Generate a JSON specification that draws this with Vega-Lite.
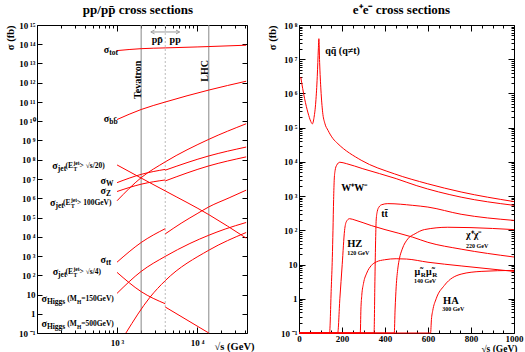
{
 "$schema": "https://vega.github.io/schema/vega-lite/v6.json",
 "padding": {"left": 5, "top": 3, "right": 0, "bottom": 0},
 "spacing": 12,
 "config": {
  "view": {"stroke": "#000000", "strokeWidth": 1},
  "font": "Liberation Serif",
  "axis": {"labelFont": "Liberation Serif", "labelFontWeight": "bold", "labelFontSize": 9, "labelColor": "#000000", "titleFont": "Liberation Serif", "titleFontWeight": "bold", "titleFontSize": 10.5, "titleColor": "#000000", "tickColor": "#000000", "tickWidth": 1, "domain": false, "grid": false, "labelFlush": false, "labelOverlap": false, "labelBound": false},
  "text": {"font": "Liberation Serif", "fontWeight": "bold", "color": "#000000"},
  "title": {"font": "Liberation Serif", "fontWeight": "bold", "fontSize": 13, "color": "#000000"}
 },
 "datasets": {
  "vl": [{"s": 2000, "k": "solid"}, {"s": 14000, "k": "solid"}, {"s": 4000, "k": "dash"}],
  "arr": [{"s": 2786, "sigma": 4.34e14, "dir": "l"}, {"s": 5754, "sigma": 4.34e14, "dir": "r"}],
  "pp": [
   {"c": "tot", "g": "a", "s": 1000, "sigma": 4.68e13}, {"c": "tot", "g": "a", "s": 2000, "sigma": 5.89e13}, {"c": "tot", "g": "a", "s": 4000, "sigma": 6.46e13}, {"c": "tot", "g": "a", "s": 10000, "sigma": 7.24e13}, {"c": "tot", "g": "a", "s": 14000, "sigma": 7.59e13}, {"c": "tot", "g": "a", "s": 41000, "sigma": 8.91e13},
   {"c": "bb", "g": "a", "s": 1000, "sigma": 1.23e10}, {"c": "bb", "g": "a", "s": 2000, "sigma": 4.07e10}, {"c": "bb", "g": "a", "s": 4000, "sigma": 1.0e11}, {"c": "bb", "g": "a", "s": 14000, "sigma": 4.17e11}, {"c": "bb", "g": "a", "s": 41000, "sigma": 1.2e12},
   {"c": "jet20", "g": "a", "s": 1000, "sigma": 5.37e7}, {"c": "jet20", "g": "a", "s": 2000, "sigma": 1.12e7}, {"c": "jet20", "g": "a", "s": 4000, "sigma": 2.4e6}, {"c": "jet20", "g": "a", "s": 14000, "sigma": 1.41e5}, {"c": "jet20", "g": "a", "s": 41000, "sigma": 8510},
   {"c": "W", "g": "a", "s": 1000, "sigma": 6.46e6}, {"c": "W", "g": "a", "s": 2000, "sigma": 1.74e7}, {"c": "W", "g": "a", "s": 4000, "sigma": 3.16e7},
   {"c": "W", "g": "b", "s": 4000, "sigma": 2.88e7}, {"c": "W", "g": "b", "s": 14000, "sigma": 1.58e8}, {"c": "W", "g": "b", "s": 41000, "sigma": 4.57e8},
   {"c": "Z", "g": "a", "s": 1000, "sigma": 2.24e6}, {"c": "Z", "g": "a", "s": 2000, "sigma": 5.37e6}, {"c": "Z", "g": "a", "s": 4000, "sigma": 8.91e6},
   {"c": "Z", "g": "b", "s": 4000, "sigma": 7.94e6}, {"c": "Z", "g": "b", "s": 14000, "sigma": 4.79e7}, {"c": "Z", "g": "b", "s": 41000, "sigma": 1.41e8},
   {"c": "jet100", "g": "a", "s": 1000, "sigma": 7.41e5}, {"c": "jet100", "g": "a", "s": 2000, "sigma": 1.17e7}, {"c": "jet100", "g": "a", "s": 4000, "sigma": 7.76e7}, {"c": "jet100", "g": "a", "s": 14000, "sigma": 1.15e9}, {"c": "jet100", "g": "a", "s": 41000, "sigma": 7.41e9},
   {"c": "tt", "g": "a", "s": 1000, "sigma": 479}, {"c": "tt", "g": "a", "s": 2000, "sigma": 5010}, {"c": "tt", "g": "a", "s": 4000, "sigma": 2.63e4},
   {"c": "tt", "g": "b", "s": 4000, "sigma": 1.41e4}, {"c": "tt", "g": "b", "s": 6310, "sigma": 5.01e4}, {"c": "tt", "g": "b", "s": 10000, "sigma": 1.58e5}, {"c": "tt", "g": "b", "s": 14000, "sigma": 3.55e5}, {"c": "tt", "g": "b", "s": 25100, "sigma": 1.05e6}, {"c": "tt", "g": "b", "s": 41000, "sigma": 2.63e6},
   {"c": "jet4", "g": "a", "s": 1000, "sigma": 141}, {"c": "jet4", "g": "a", "s": 2000, "sigma": 14.1}, {"c": "jet4", "g": "a", "s": 4000, "sigma": 3.31},
   {"c": "jet4", "g": "b", "s": 4000, "sigma": 2.24}, {"c": "jet4", "g": "b", "s": 14000, "sigma": 0.1},
   {"c": "H150", "g": "a", "s": 1000, "sigma": 11.5}, {"c": "H150", "g": "a", "s": 2000, "sigma": 158}, {"c": "H150", "g": "a", "s": 4000, "sigma": 955}, {"c": "H150", "g": "a", "s": 8130, "sigma": 4470}, {"c": "H150", "g": "a", "s": 14000, "sigma": 12000}, {"c": "H150", "g": "a", "s": 22400, "sigma": 25100}, {"c": "H150", "g": "a", "s": 41000, "sigma": 55000},
   {"c": "H500", "g": "a", "s": 1290, "sigma": 0.1}, {"c": "H500", "g": "a", "s": 2570, "sigma": 7.08}, {"c": "H500", "g": "a", "s": 4000, "sigma": 52.5}, {"c": "H500", "g": "a", "s": 14000, "sigma": 2000}, {"c": "H500", "g": "a", "s": 41000, "sigma": 16600}
  ],
  "ppl": [
   {"x": 800, "y": 5.07e13, "t": "σ", "r": "m"}, {"x": 800, "y": 5.07e13, "t": "tot", "r": "s"},
   {"x": 800, "y": 1.35e10, "t": "σ", "r": "m"}, {"x": 800, "y": 1.35e10, "t": "bb\u0304", "r": "s"},
   {"x": 727, "y": 7.9e6, "t": "σ", "r": "m"}, {"x": 727, "y": 7.9e6, "t": "W", "r": "s"},
   {"x": 727, "y": 2.5e6, "t": "σ", "r": "m"}, {"x": 727, "y": 2.5e6, "t": "Z", "r": "s"},
   {"x": 727, "y": 592, "t": "σ", "r": "m"}, {"x": 727, "y": 592, "t": "tt\u0304", "r": "s"},
   {"x": 182, "y": 4.94e7, "t": "σ", "r": "m"}, {"x": 182, "y": 4.94e7, "t": "jet", "r": "s"}, {"x": 227.5, "y": 4.94e7, "t": "(E", "r": "p"}, {"x": 285, "y": 4.94e7, "t": "jet", "r": "u"}, {"x": 285, "y": 4.94e7, "t": "T", "r": "d"}, {"x": 340, "y": 4.94e7, "t": "> √s/20)", "r": "p"},
   {"x": 170, "y": 5.98e5, "t": "σ", "r": "m"}, {"x": 170, "y": 5.98e5, "t": "jet", "r": "s"}, {"x": 212, "y": 5.98e5, "t": "(E", "r": "p"}, {"x": 265, "y": 5.98e5, "t": "jet", "r": "u"}, {"x": 265, "y": 5.98e5, "t": "T", "r": "d"}, {"x": 316, "y": 5.98e5, "t": "> 100GeV)", "r": "p"},
   {"x": 183.5, "y": 141, "t": "σ", "r": "m"}, {"x": 183.5, "y": 141, "t": "jet", "r": "s"}, {"x": 227.5, "y": 141, "t": "(E", "r": "p"}, {"x": 285, "y": 141, "t": "jet", "r": "u"}, {"x": 285, "y": 141, "t": "T", "r": "d"}, {"x": 340, "y": 141, "t": "> √s/4)", "r": "p"},
   {"x": 133, "y": 5.85, "t": "σ", "r": "m"}, {"x": 133, "y": 5.85, "t": "Higgs", "r": "s"}, {"x": 238, "y": 5.85, "t": "(M", "r": "p"}, {"x": 315, "y": 5.85, "t": "H", "r": "d"}, {"x": 357, "y": 5.85, "t": "=150GeV)", "r": "p"},
   {"x": 133, "y": 0.296, "t": "σ", "r": "m"}, {"x": 133, "y": 0.296, "t": "Higgs", "r": "s"}, {"x": 238, "y": 0.296, "t": "(M", "r": "p"}, {"x": 315, "y": 0.296, "t": "H", "r": "d"}, {"x": 357, "y": 0.296, "t": "=500GeV)", "r": "p"},
   {"x": 1829, "y": 1.41e12, "t": "Tevatron", "r": "v"}, {"x": 12620, "y": 4.14e12, "t": "LHC", "r": "v"},
   {"x": 3177, "y": 1.61e14, "t": "pp\u0304", "r": "c"}, {"x": 5321, "y": 1.61e14, "t": "pp", "r": "c"}
  ],
  "ee": [
   {"c": "qq", "s": 8, "sigma": 3.02e6}, {"c": "qq", "s": 26, "sigma": 7.08e5}, {"c": "qq", "s": 42, "sigma": 2.69e5}, {"c": "qq", "s": 55, "sigma": 1.51e5}, {"c": "qq", "s": 62, "sigma": 1.29e5}, {"c": "qq", "s": 70, "sigma": 2.0e5}, {"c": "qq", "s": 78, "sigma": 5.62e5}, {"c": "qq", "s": 85, "sigma": 3.16e6}, {"c": "qq", "s": 90, "sigma": 2.0e7}, {"c": "qq", "s": 92.5, "sigma": 3.98e7}, {"c": "qq", "s": 96, "sigma": 7.94e6}, {"c": "qq", "s": 102, "sigma": 1.26e6}, {"c": "qq", "s": 110, "sigma": 2.82e5}, {"c": "qq", "s": 120, "sigma": 1.35e5}, {"c": "qq", "s": 135, "sigma": 8.32e4}, {"c": "qq", "s": 158, "sigma": 4.79e4}, {"c": "qq", "s": 181, "sigma": 3.39e4}, {"c": "qq", "s": 289, "sigma": 1.12e4}, {"c": "qq", "s": 444, "sigma": 4470}, {"c": "qq", "s": 599, "sigma": 2290}, {"c": "qq", "s": 754, "sigma": 1320}, {"c": "qq", "s": 1000, "sigma": 692},
   {"c": "ww", "s": 0, "sigma": 0.1}, {"c": "ww", "s": 142, "sigma": 0.1}, {"c": "ww", "s": 150, "sigma": 2.0}, {"c": "ww", "s": 155, "sigma": 15.8}, {"c": "ww", "s": 158, "sigma": 100}, {"c": "ww", "s": 161, "sigma": 794}, {"c": "ww", "s": 164, "sigma": 3160}, {"c": "ww", "s": 168, "sigma": 5620}, {"c": "ww", "s": 175, "sigma": 7940}, {"c": "ww", "s": 190, "sigma": 9770}, {"c": "ww", "s": 220, "sigma": 8910}, {"c": "ww", "s": 297, "sigma": 6310}, {"c": "ww", "s": 452, "sigma": 3240}, {"c": "ww", "s": 545, "sigma": 2040}, {"c": "ww", "s": 754, "sigma": 933}, {"c": "ww", "s": 1000, "sigma": 537},
   {"c": "tt", "s": 0, "sigma": 0.1}, {"c": "tt", "s": 349, "sigma": 0.1}, {"c": "tt", "s": 353, "sigma": 3.16}, {"c": "tt", "s": 356, "sigma": 39.8}, {"c": "tt", "s": 359, "sigma": 200}, {"c": "tt", "s": 364, "sigma": 355}, {"c": "tt", "s": 372, "sigma": 479}, {"c": "tt", "s": 385, "sigma": 562}, {"c": "tt", "s": 413, "sigma": 603}, {"c": "tt", "s": 529, "sigma": 537}, {"c": "tt", "s": 599, "sigma": 479}, {"c": "tt", "s": 754, "sigma": 295}, {"c": "tt", "s": 1000, "sigma": 195},
   {"c": "hz", "s": 0, "sigma": 0.1}, {"c": "hz", "s": 180, "sigma": 0.1}, {"c": "hz", "s": 190, "sigma": 1}, {"c": "hz", "s": 201, "sigma": 10}, {"c": "hz", "s": 212, "sigma": 100}, {"c": "hz", "s": 220, "sigma": 178}, {"c": "hz", "s": 235, "sigma": 219}, {"c": "hz", "s": 260, "sigma": 200}, {"c": "hz", "s": 336, "sigma": 138}, {"c": "hz", "s": 400, "sigma": 105}, {"c": "hz", "s": 529, "sigma": 63.1}, {"c": "hz", "s": 599, "sigma": 44.7}, {"c": "hz", "s": 754, "sigma": 28.2}, {"c": "hz", "s": 1000, "sigma": 16.6},
   {"c": "mu", "s": 0, "sigma": 0.1}, {"c": "mu", "s": 285, "sigma": 0.1}, {"c": "mu", "s": 288, "sigma": 0.5}, {"c": "mu", "s": 292, "sigma": 1.26}, {"c": "mu", "s": 300, "sigma": 2.82}, {"c": "mu", "s": 315, "sigma": 5.62}, {"c": "mu", "s": 336, "sigma": 9.33}, {"c": "mu", "s": 360, "sigma": 12.0}, {"c": "mu", "s": 398, "sigma": 13.8}, {"c": "mu", "s": 452, "sigma": 14.8}, {"c": "mu", "s": 500, "sigma": 14.5}, {"c": "mu", "s": 600, "sigma": 11.7}, {"c": "mu", "s": 754, "sigma": 9.12}, {"c": "mu", "s": 1000, "sigma": 6.31},
   {"c": "chi", "s": 0, "sigma": 0.1}, {"c": "chi", "s": 443, "sigma": 0.1}, {"c": "chi", "s": 447, "sigma": 0.5}, {"c": "chi", "s": 452, "sigma": 2.24}, {"c": "chi", "s": 460, "sigma": 7.94}, {"c": "chi", "s": 467, "sigma": 14.8}, {"c": "chi", "s": 480, "sigma": 28.2}, {"c": "chi", "s": 506, "sigma": 56.2}, {"c": "chi", "s": 540, "sigma": 79.4}, {"c": "chi", "s": 583, "sigma": 105}, {"c": "chi", "s": 692, "sigma": 123}, {"c": "chi", "s": 800, "sigma": 120}, {"c": "chi", "s": 1000, "sigma": 105},
   {"c": "ha", "s": 0, "sigma": 0.1}, {"c": "ha", "s": 612, "sigma": 0.1}, {"c": "ha", "s": 616, "sigma": 0.25}, {"c": "ha", "s": 622, "sigma": 0.45}, {"c": "ha", "s": 638, "sigma": 1}, {"c": "ha", "s": 676, "sigma": 2.45}, {"c": "ha", "s": 754, "sigma": 5.25}, {"c": "ha", "s": 847, "sigma": 6.31}, {"c": "ha", "s": 1000, "sigma": 6.76}
  ],
  "eel": [
   {"x": 122, "y": 1.74e7, "t": "qq\u0304 (q≠t)", "r": "med"},
   {"x": 196, "y": 1710, "t": "W\u207aW\u207b", "r": "med"},
   {"x": 382, "y": 298, "t": "tt\u0304", "r": "med"},
   {"x": 224, "y": 39.4, "t": "HZ", "r": "big"},
   {"x": 224, "y": 22.3, "t": "120 GeV", "r": "small"},
   {"x": 777, "y": 72.4, "t": "χ\u207aχ\u207b", "r": "med"},
   {"x": 777, "y": 34.5, "t": "220 GeV", "r": "small"},
   {"x": 537, "y": 6.0, "t": "μ\u0303", "r": "med"}, {"x": 566, "y": 6.0, "t": "R", "r": "sub"},
   {"x": 591, "y": 6.0, "t": "μ\u0303", "r": "med"}, {"x": 620, "y": 6.0, "t": "R", "r": "sub"},
   {"x": 535, "y": 3.27, "t": "140 GeV", "r": "small"},
   {"x": 670, "y": 0.851, "t": "HA", "r": "big"},
   {"x": 666, "y": 0.514, "t": "300 GeV", "r": "small"}
  ]
 },
 "hconcat": [
  {
   "width": 210, "height": 308,
   "title": {"text": "pp/pp\u0304 cross sections", "fontSize": 13, "frame": "group", "anchor": "middle", "offset": 4, "dx": -4},
   "resolve": {"axis": {"x": "independent", "y": "independent"}},
   "layer": [
    {"data": {"name": "vl"}, "transform": [{"filter": "datum.k == 'solid'"}], "mark": {"type": "rule", "color": "#888888", "strokeWidth": 1},
     "encoding": {"x": {"field": "s", "type": "quantitative", "scale": {"type": "log", "domain": [100, 42000], "nice": false}, "axis": null}}},
    {"data": {"name": "vl"}, "transform": [{"filter": "datum.k == 'dash'"}], "mark": {"type": "rule", "color": "#bbbbbb", "strokeWidth": 1, "strokeDash": [2, 2]},
     "encoding": {"x": {"field": "s", "type": "quantitative", "scale": {"type": "log", "domain": [100, 42000], "nice": false}, "axis": null}}},
    {"data": {"name": "pp"}, "mark": {"type": "line", "color": "#ff0000", "strokeWidth": 1, "interpolate": "monotone"},
     "encoding": {
      "x": {"field": "s", "type": "quantitative", "scale": {"type": "log", "domain": [100, 42000], "nice": false},
       "axis": {"orient": "bottom", "values": [100, 200, 300, 400, 500, 600, 700, 800, 900, 1000, 2000, 3000, 4000, 5000, 6000, 7000, 8000, 9000, 10000, 20000, 30000, 40000],
        "labelExpr": "datum.value == 1000 ? '10\u2009³' : datum.value == 10000 ? '10\u2009⁴' : ''",
        "tickSize": {"condition": {"test": "datum.value == 100 || datum.value == 1000 || datum.value == 10000", "value": -6}, "value": -3},
        "labelPadding": 11, "title": "√s (GeV)", "titleAnchor": "end", "titleAlign": "right", "titleX": 217, "titleY": 13, "titleBaseline": "middle"}},
      "y": {"field": "sigma", "type": "quantitative", "scale": {"type": "log", "domain": [0.1, 1e15], "nice": false},
       "axis": {"orient": "left", "values": [0.1, 1, 10, 100, 1000, 1e4, 1e5, 1e6, 1e7, 1e8, 1e9, 1e10, 1e11, 1e12, 1e13, 1e14, 1e15],
        "labelExpr": "round(log(datum.value)/LN10) == 0 ? '1' : round(log(datum.value)/LN10) == 1 ? '10' : '10\u2009' + (datum.value < 1 ? '⁻' : '') + (abs(round(log(datum.value)/LN10)) >= 10 ? '¹' : '') + substring('⁰¹²³⁴⁵⁶⁷⁸⁹', abs(round(log(datum.value)/LN10)) % 10, abs(round(log(datum.value)/LN10)) % 10 + 1)",
        "tickSize": -5, "labelPadding": 7, "title": "σ (fb)", "titleAnchor": "end", "titlePadding": 3}},
      "detail": [{"field": "c"}, {"field": "g"}]
     }},
    {"data": {"name": "arr"}, "mark": {"type": "rule", "color": "#999999", "strokeWidth": 1},
     "encoding": {
      "x": {"aggregate": "min", "field": "s", "type": "quantitative", "scale": {"type": "log", "domain": [100, 42000], "nice": false}, "axis": null},
      "x2": {"aggregate": "max", "field": "s"},
      "y": {"aggregate": "min", "field": "sigma", "type": "quantitative", "scale": {"type": "log", "domain": [0.1, 1e15], "nice": false}, "axis": null}}},
    {"data": {"name": "arr"}, "mark": {"type": "point", "filled": false, "color": "#999999", "size": 14, "strokeWidth": 1, "opacity": 1},
     "encoding": {
      "x": {"field": "s", "type": "quantitative", "scale": {"type": "log", "domain": [100, 42000], "nice": false}, "axis": null},
      "y": {"field": "sigma", "type": "quantitative", "scale": {"type": "log", "domain": [0.1, 1e15], "nice": false}, "axis": null},
      "shape": {"field": "dir", "type": "nominal", "scale": {"domain": ["l", "r"], "range": ["M1,-1L-1,0L1,1", "M-1,-1L1,0L-1,1"]}, "legend": null}}},
    {"data": {"name": "ppl"}, "transform": [{"filter": "datum.r == 'm'"}], "mark": {"type": "text", "align": "right", "baseline": "middle", "fontSize": 10},
     "encoding": {
      "x": {"field": "x", "type": "quantitative", "scale": {"type": "log", "domain": [100, 42000], "nice": false},
       "axis": {"orient": "top", "values": [100, 200, 300, 400, 500, 600, 700, 800, 900, 1000, 2000, 3000, 4000, 5000, 6000, 7000, 8000, 9000, 10000, 20000, 30000, 40000], "labels": false, "title": null,
        "tickSize": {"condition": {"test": "datum.value == 100 || datum.value == 1000 || datum.value == 10000", "value": -6}, "value": -3}}},
      "y": {"field": "y", "type": "quantitative", "scale": {"type": "log", "domain": [0.1, 1e15], "nice": false},
       "axis": {"orient": "right", "values": [0.1, 1, 10, 100, 1000, 1e4, 1e5, 1e6, 1e7, 1e8, 1e9, 1e10, 1e11, 1e12, 1e13, 1e14, 1e15], "labels": false, "title": null, "tickSize": -5}},
      "text": {"field": "t"}}},
    {"data": {"name": "ppl"}, "transform": [{"filter": "datum.r == 's'"}], "mark": {"type": "text", "align": "left", "baseline": "middle", "fontSize": 7.5, "dy": 3},
     "encoding": {
      "x": {"field": "x", "type": "quantitative", "scale": {"type": "log", "domain": [100, 42000], "nice": false}, "axis": null},
      "y": {"field": "y", "type": "quantitative", "scale": {"type": "log", "domain": [0.1, 1e15], "nice": false}, "axis": null},
      "text": {"field": "t"}}},
    {"data": {"name": "ppl"}, "transform": [{"filter": "datum.r == 'p'"}], "mark": {"type": "text", "align": "left", "baseline": "middle", "fontSize": 7.5},
     "encoding": {
      "x": {"field": "x", "type": "quantitative", "scale": {"type": "log", "domain": [100, 42000], "nice": false}, "axis": null},
      "y": {"field": "y", "type": "quantitative", "scale": {"type": "log", "domain": [0.1, 1e15], "nice": false}, "axis": null},
      "text": {"field": "t"}}},
    {"data": {"name": "ppl"}, "transform": [{"filter": "datum.r == 'u'"}], "mark": {"type": "text", "align": "left", "baseline": "middle", "fontSize": 5.5, "dy": -3},
     "encoding": {
      "x": {"field": "x", "type": "quantitative", "scale": {"type": "log", "domain": [100, 42000], "nice": false}, "axis": null},
      "y": {"field": "y", "type": "quantitative", "scale": {"type": "log", "domain": [0.1, 1e15], "nice": false}, "axis": null},
      "text": {"field": "t"}}},
    {"data": {"name": "ppl"}, "transform": [{"filter": "datum.r == 'd'"}], "mark": {"type": "text", "align": "left", "baseline": "middle", "fontSize": 5.5, "dy": 3},
     "encoding": {
      "x": {"field": "x", "type": "quantitative", "scale": {"type": "log", "domain": [100, 42000], "nice": false}, "axis": null},
      "y": {"field": "y", "type": "quantitative", "scale": {"type": "log", "domain": [0.1, 1e15], "nice": false}, "axis": null},
      "text": {"field": "t"}}},
    {"data": {"name": "ppl"}, "transform": [{"filter": "datum.r == 'v'"}], "mark": {"type": "text", "align": "center", "baseline": "middle", "fontSize": 10, "angle": 270},
     "encoding": {
      "x": {"field": "x", "type": "quantitative", "scale": {"type": "log", "domain": [100, 42000], "nice": false}, "axis": null},
      "y": {"field": "y", "type": "quantitative", "scale": {"type": "log", "domain": [0.1, 1e15], "nice": false}, "axis": null},
      "text": {"field": "t"}}},
    {"data": {"name": "ppl"}, "transform": [{"filter": "datum.r == 'c'"}], "mark": {"type": "text", "align": "center", "baseline": "middle", "fontSize": 10},
     "encoding": {
      "x": {"field": "x", "type": "quantitative", "scale": {"type": "log", "domain": [100, 42000], "nice": false}, "axis": null},
      "y": {"field": "y", "type": "quantitative", "scale": {"type": "log", "domain": [0.1, 1e15], "nice": false}, "axis": null},
      "text": {"field": "t"}}}
   ]
  },
  {
   "width": 215, "height": 308,
   "title": {"text": "e\u207ae\u207b cross sections", "fontSize": 13, "frame": "group", "anchor": "middle", "offset": 4, "dx": -5},
   "resolve": {"axis": {"x": "independent", "y": "independent"}},
   "layer": [
    {"data": {"name": "ee"}, "mark": {"type": "line", "color": "#ff0000", "strokeWidth": 1, "interpolate": "monotone"},
     "encoding": {
      "x": {"field": "s", "type": "quantitative", "scale": {"type": "linear", "domain": [0, 1000], "nice": false, "zero": false},
       "axis": {"orient": "bottom", "values": [0, 50, 100, 150, 200, 250, 300, 350, 400, 450, 500, 550, 600, 650, 700, 750, 800, 850, 900, 950, 1000],
        "labelExpr": "datum.value % 200 == 0 ? '' + datum.value : ''",
        "tickSize": {"condition": {"test": "datum.value % 200 == 0", "value": -6}, "value": -3},
        "labelPadding": 7, "title": "√s (GeV)", "titleFontSize": 9.5, "titleAnchor": "end", "titleAlign": "right", "titleX": 218, "titleY": 15, "titleBaseline": "middle"}},
      "y": {"field": "sigma", "type": "quantitative", "scale": {"type": "log", "domain": [0.1, 1e8], "nice": false},
       "axis": {"orient": "left", "values": [0.1, 0.2, 0.3, 0.4, 0.5, 0.6, 0.7, 0.8, 0.9, 1, 2, 3, 4, 5, 6, 7, 8, 9, 10, 20, 30, 40, 50, 60, 70, 80, 90, 100, 200, 300, 400, 500, 600, 700, 800, 900, 1000, 2000, 3000, 4000, 5000, 6000, 7000, 8000, 9000, 1e4, 2e4, 3e4, 4e4, 5e4, 6e4, 7e4, 8e4, 9e4, 1e5, 2e5, 3e5, 4e5, 5e5, 6e5, 7e5, 8e5, 9e5, 1e6, 2e6, 3e6, 4e6, 5e6, 6e6, 7e6, 8e6, 9e6, 1e7, 2e7, 3e7, 4e7, 5e7, 6e7, 7e7, 8e7, 9e7, 1e8],
        "labelExpr": "abs(log(datum.value)/LN10 - round(log(datum.value)/LN10)) > 0.01 ? '' : round(log(datum.value)/LN10) == 0 ? '1' : round(log(datum.value)/LN10) == 1 ? '10' : '10\u2009' + (datum.value < 1 ? '⁻' : '') + (abs(round(log(datum.value)/LN10)) >= 10 ? '¹' : '') + substring('⁰¹²³⁴⁵⁶⁷⁸⁹', abs(round(log(datum.value)/LN10)) % 10, abs(round(log(datum.value)/LN10)) % 10 + 1)",
        "tickSize": {"condition": {"test": "abs(log(datum.value)/LN10 - round(log(datum.value)/LN10)) < 0.01", "value": -6}, "value": -3},
        "labelPadding": 8, "title": "σ (fb)", "titleAnchor": "end", "titlePadding": 3}},
      "detail": {"field": "c"}
     }},
    {"data": {"name": "eel"}, "transform": [{"filter": "datum.r == 'med'"}], "mark": {"type": "text", "align": "left", "baseline": "middle", "fontSize": 10},
     "encoding": {
      "x": {"field": "x", "type": "quantitative", "scale": {"type": "linear", "domain": [0, 1000], "nice": false, "zero": false},
       "axis": {"orient": "top", "values": [0, 50, 100, 150, 200, 250, 300, 350, 400, 450, 500, 550, 600, 650, 700, 750, 800, 850, 900, 950, 1000], "labels": false, "title": null,
        "tickSize": {"condition": {"test": "datum.value % 200 == 0", "value": -6}, "value": -3}}},
      "y": {"field": "y", "type": "quantitative", "scale": {"type": "log", "domain": [0.1, 1e8], "nice": false},
       "axis": {"orient": "right", "values": [0.1, 0.2, 0.3, 0.4, 0.5, 0.6, 0.7, 0.8, 0.9, 1, 2, 3, 4, 5, 6, 7, 8, 9, 10, 20, 30, 40, 50, 60, 70, 80, 90, 100, 200, 300, 400, 500, 600, 700, 800, 900, 1000, 2000, 3000, 4000, 5000, 6000, 7000, 8000, 9000, 1e4, 2e4, 3e4, 4e4, 5e4, 6e4, 7e4, 8e4, 9e4, 1e5, 2e5, 3e5, 4e5, 5e5, 6e5, 7e5, 8e5, 9e5, 1e6, 2e6, 3e6, 4e6, 5e6, 6e6, 7e6, 8e6, 9e6, 1e7, 2e7, 3e7, 4e7, 5e7, 6e7, 7e7, 8e7, 9e7, 1e8], "labels": false, "title": null,
        "tickSize": {"condition": {"test": "abs(log(datum.value)/LN10 - round(log(datum.value)/LN10)) < 0.01", "value": -6}, "value": -3}}},
      "text": {"field": "t"}}},
    {"data": {"name": "eel"}, "transform": [{"filter": "datum.r == 'big'"}], "mark": {"type": "text", "align": "left", "baseline": "middle", "fontSize": 10.5},
     "encoding": {
      "x": {"field": "x", "type": "quantitative", "scale": {"type": "linear", "domain": [0, 1000], "nice": false, "zero": false}, "axis": null},
      "y": {"field": "y", "type": "quantitative", "scale": {"type": "log", "domain": [0.1, 1e8], "nice": false}, "axis": null},
      "text": {"field": "t"}}},
    {"data": {"name": "eel"}, "transform": [{"filter": "datum.r == 'small'"}], "mark": {"type": "text", "align": "left", "baseline": "middle", "fontSize": 6},
     "encoding": {
      "x": {"field": "x", "type": "quantitative", "scale": {"type": "linear", "domain": [0, 1000], "nice": false, "zero": false}, "axis": null},
      "y": {"field": "y", "type": "quantitative", "scale": {"type": "log", "domain": [0.1, 1e8], "nice": false}, "axis": null},
      "text": {"field": "t"}}},
    {"data": {"name": "eel"}, "transform": [{"filter": "datum.r == 'sub'"}], "mark": {"type": "text", "align": "left", "baseline": "middle", "fontSize": 7, "dy": 3},
     "encoding": {
      "x": {"field": "x", "type": "quantitative", "scale": {"type": "linear", "domain": [0, 1000], "nice": false, "zero": false}, "axis": null},
      "y": {"field": "y", "type": "quantitative", "scale": {"type": "log", "domain": [0.1, 1e8], "nice": false}, "axis": null},
      "text": {"field": "t"}}}
   ]
  }
 ]
}
